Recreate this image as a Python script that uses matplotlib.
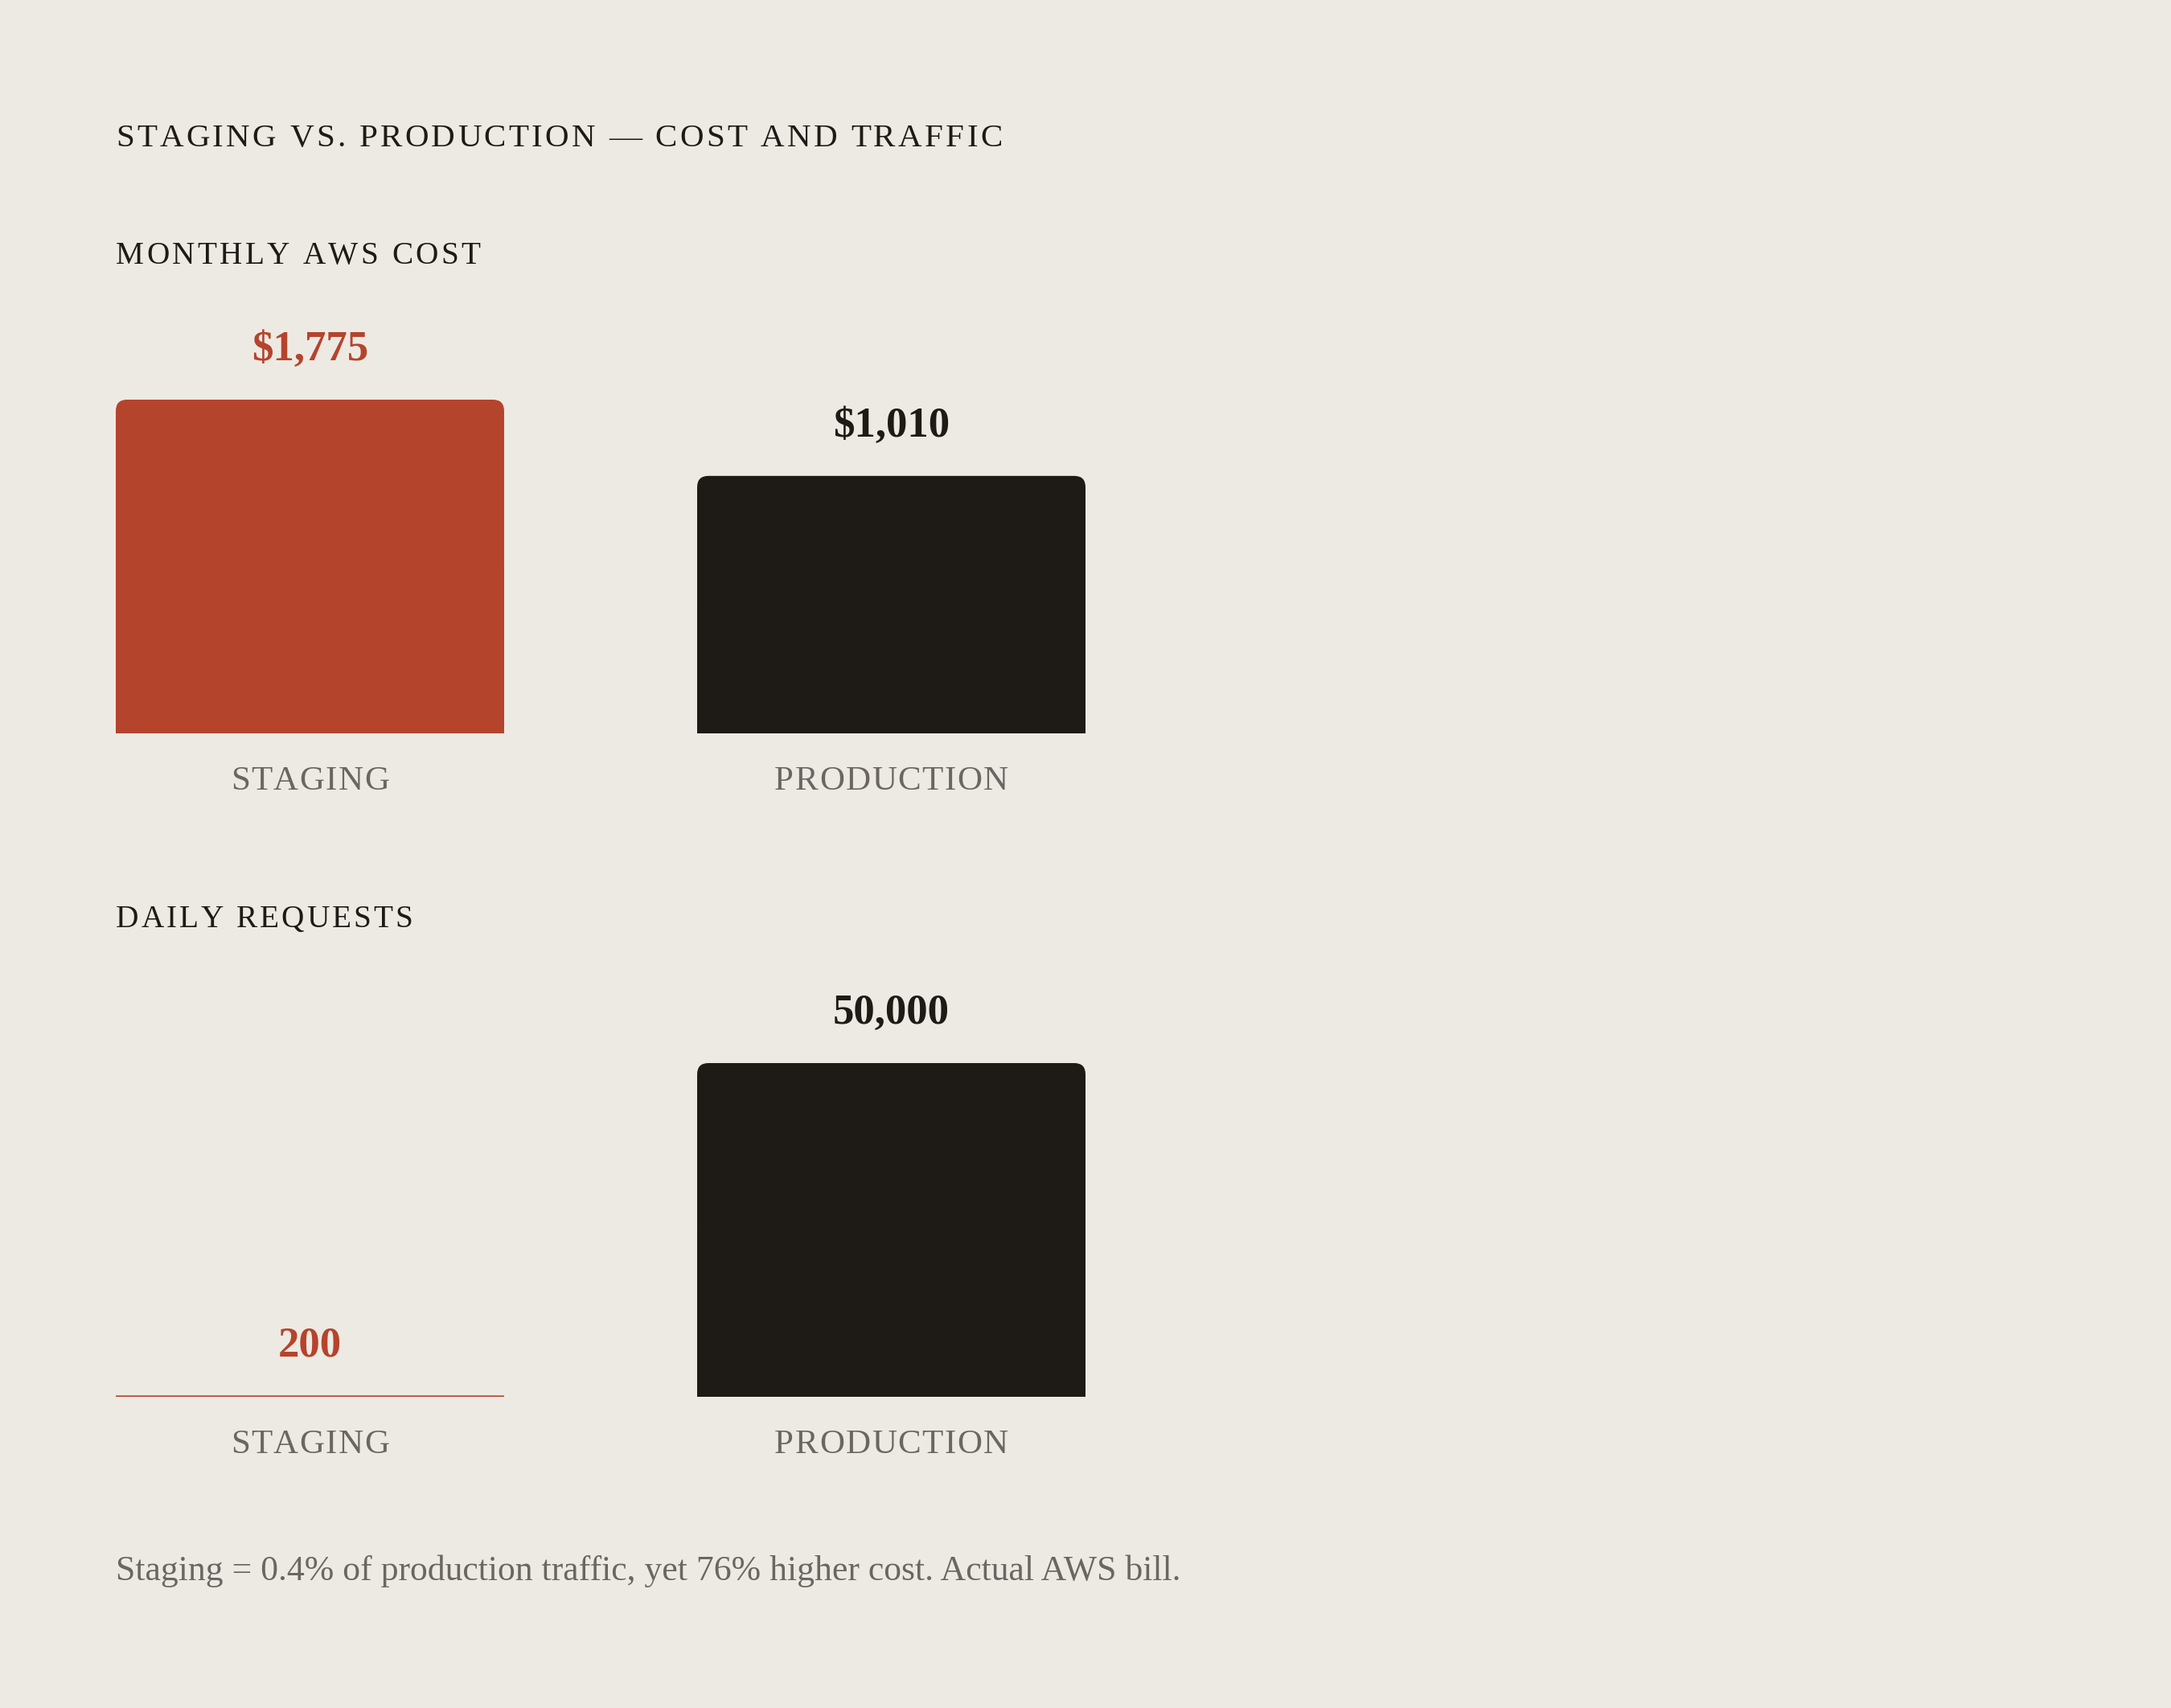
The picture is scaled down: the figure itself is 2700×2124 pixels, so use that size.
import numpy as np
import matplotlib
matplotlib.use('Agg')
import matplotlib.pyplot as plt
from matplotlib.patches import FancyBboxPatch, Rectangle
from matplotlib.transforms import IdentityTransform

# data
categories = ['STAGING', 'PRODUCTION']
cost = [1775, 1010]
cost_labels = ['$1,775', '$1,010']
requests = [200, 50000]
request_labels = ['200', '50,000']

title = 'STAGING VS. PRODUCTION — COST AND TRAFFIC'
cost_title = 'MONTHLY AWS COST'
req_title = 'DAILY REQUESTS'
note = 'Staging = 0.4% of production traffic, yet 76% higher cost. Actual AWS bill.'

BG = '#edeae4'
RED = '#b5442c'
DARK = '#1e1b17'
GREY = '#6b6661'
FONT = 'Liberation Serif'

W, H = 2700, 2124
fig = plt.figure(figsize=(W / 100, H / 100), dpi=100, facecolor=BG)
renderer = fig.canvas.get_renderer()


def char_width(ch, size, weight):
    if ch == ' ':
        a = fig.text(0, 0, 'x x', fontsize=size, family=FONT, weight=weight)
        b = fig.text(0, 0, 'xx', fontsize=size, family=FONT, weight=weight)
        w = a.get_window_extent(renderer).width - b.get_window_extent(renderer).width
        a.remove(); b.remove()
        return w
    t = fig.text(0, 0, ch, fontsize=size, family=FONT, weight=weight)
    w = t.get_window_extent(renderer).width
    t.remove()
    return w


def tracked(x, y, s, size, color, track=0.15, ha='left', weight='normal'):
    # letter-spaced text, x/y in pixels from top-left, y is baseline
    sp = track * size * 100 / 72
    widths = [char_width(c, size, weight) for c in s]
    total = sum(widths) + sp * (len(s) - 1)
    if ha == 'center':
        x = x - total / 2
    for c, w in zip(s, widths):
        if c != ' ':
            fig.text(x / W, 1 - y / H, c, fontsize=size, family=FONT, weight=weight,
                     color=color, va='baseline', ha='left')
        x += w + sp


def rounded_bars(ax, values, colors, radius=14):
    bw = 0.668
    bars = ax.bar(range(len(values)), values, width=bw, color=colors)
    ax.set_xlim(-bw / 2, len(values) - 1 + bw / 2)
    for b, c in zip(bars, colors):
        bb = b.get_window_extent(renderer)
        b.set_visible(False)
        r = min(radius, bb.height / 2)
        fig.add_artist(FancyBboxPatch((bb.x0, bb.y0), bb.width, bb.height,
                                      boxstyle=f'round,pad=0,rounding_size={r}',
                                      transform=IdentityTransform(), fc=c, ec='none'))
        fig.add_artist(Rectangle((bb.x0, bb.y0), bb.width, bb.height / 2,
                                 transform=IdentityTransform(), fc=c, ec='none'))
    return bars


def panel(top, bottom, values, labels, scale=None):
    ax = fig.add_axes([144 / W, 1 - bottom / H, (1350 - 144) / W, (bottom - top) / H])
    ax.set_facecolor('none')
    if scale:
        ax.set_yscale('function', functions=scale)
    ax.set_ylim(0, max(values))
    ax.axis('off')
    colors = [RED, DARK]
    bars = rounded_bars(ax, values, colors)
    for b, lab, c in zip(bars, labels, colors):
        ax.annotate(lab, (b.get_x() + b.get_width() / 2, b.get_height()),
                    xytext=(0, 49), textcoords='offset pixels', ha='center',
                    va='baseline', fontsize=38, fontweight='bold', family=FONT, color=c)
    for i, cat in enumerate(categories):
        cx = ax.transData.transform((i, 0))[0]
        tracked(cx, bottom + 70, cat, 31, GREY, track=0.035, ha='center')
    return ax


tracked(144, 182, title, 29.5, DARK, track=0.08)
tracked(144, 328, cost_title, 28.3, DARK, track=0.085)
tracked(144, 1153, req_title, 28.3, DARK, track=0.075)

panel(497, 912, cost, cost_labels, scale=(lambda v: np.abs(v) ** 0.46, lambda v: np.abs(v) ** (1 / 0.46)))
panel(1322, 1737, requests, request_labels)

fig.text(144 / W, 1 - 1965 / H, note, fontsize=31.5, family=FONT, color=GREY, va='baseline')

fig.savefig('out.png', dpi=100, facecolor=BG)
